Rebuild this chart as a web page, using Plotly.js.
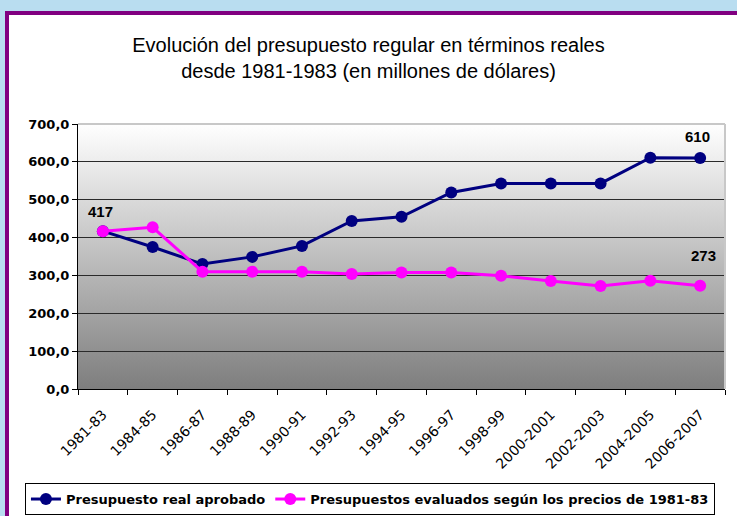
<!DOCTYPE html>
<html>
<head>
<meta charset="utf-8">
<script src="https://cdn.plot.ly/plotly-3.0.1.min.js"></script>
<style>
  html, body { margin:0; padding:0; background:#b9ddf0; width:737px; height:516px; overflow:hidden; }
  #frame { position:absolute; left:5px; top:11px; width:800px; height:600px; background:#ffffff;
           border-left:4px solid #800080; border-top:4px solid #800080; box-sizing:border-box; }
  #chart { position:absolute; left:0; top:0; width:737px; height:516px; }
</style>
</head>
<body>
<div id="frame"></div>
<div id="chart"></div>
<script>
const categories = ["1981-83","1984-85","1986-87","1988-89","1990-91","1992-93","1994-95","1996-97","1998-99","2000-2001","2002-2003","2004-2005","2006-2007"];
const realAprobado = [417, 375, 330, 349, 378, 444, 455, 519, 543, 543, 543, 611, 610];
const preciosConstantes = [417, 427, 310, 310, 310, 304, 308, 308, 299, 285, 272, 286, 273];
const seriesNames = ["Presupuesto real aprobado", "Presupuestos evaluados según los precios de 1981-83"];
const yTicks = [0, 100, 200, 300, 400, 500, 600, 700];

const gradSvg = '<svg xmlns="http://www.w3.org/2000/svg" width="100" height="100" preserveAspectRatio="none">' +
  '<defs><linearGradient id="g" x1="0" y1="0" x2="0" y2="1">' +
  '<stop offset="0" stop-color="#ffffff"/><stop offset="1" stop-color="#7e7e7e"/></linearGradient></defs>' +
  '<rect x="0" y="0" width="100" height="100" fill="url(#g)"/></svg>';
const gradSrc = 'data:image/svg+xml;base64,' + btoa(gradSvg);

const traces = [
  { x: categories, y: realAprobado, name: seriesNames[0], type: 'scatter', mode: 'lines+markers',
    line: { color: '#000080', width: 3 }, marker: { color: '#000080', size: 12 } },
  { x: categories, y: preciosConstantes, name: seriesNames[1], type: 'scatter', mode: 'lines+markers',
    line: { color: '#ff00ff', width: 3 }, marker: { color: '#ff00ff', size: 12 } }
];

const labelFont = { family: 'Liberation Sans, Arial', size: 15, color: '#000', weight: 'bold' };
const annotations = [
  { x: categories[0], y: realAprobado[0], text: String(realAprobado[0]), showarrow: false, yshift: 20, xshift: -2, font: labelFont },
  { x: categories[12], y: realAprobado[12], text: String(realAprobado[12]), showarrow: false, yshift: 22, xshift: -3, font: labelFont },
  { x: categories[12], y: preciosConstantes[12], text: String(preciosConstantes[12]), showarrow: false, yshift: 30, xshift: 3, font: labelFont }
];

const layout = {
  width: 737, height: 516,
  paper_bgcolor: 'rgba(0,0,0,0)', plot_bgcolor: 'rgba(0,0,0,0)',
  margin: { l: 78, r: 12, t: 124, b: 127, pad: 0, autoexpand: false },
  separators: ', ',
  title: { text: 'Evolución del presupuesto regular en términos reales<br>desde 1981-1983 (en millones de dólares)',
           x: 0.5, xanchor: 'center', xref: 'container', y: 0.899, yanchor: 'top', yref: 'container',
           font: { family: 'Liberation Sans, Arial', size: 20, color: '#000' } },
  showlegend: true,
  legend: { orientation: 'h', xref: 'paper', yref: 'paper', x: -0.082, xanchor: 'left', y: -0.355, yanchor: 'top',
            bgcolor: '#ffffff', bordercolor: '#000', borderwidth: 1,
            font: { family: 'DejaVu Sans', size: 13, color: '#000', weight: 'bold' } },
  xaxis: { type: 'category', range: [-0.5, 12.5], autorange: false, automargin: false,
           tickangle: -45, showgrid: false, showline: true, linecolor: '#000', linewidth: 1,
           ticks: 'outside', ticklen: 5, tickcolor: '#000', tickson: 'boundaries', ticklabelstandoff: 11,
           tickfont: { family: 'DejaVu Sans', size: 14, color: '#000' }, zeroline: false },
  yaxis: { range: [0, 700], autorange: false, automargin: false, tickvals: yTicks, tickformat: '.1f',
           showgrid: true, gridcolor: '#2a2a2a', gridwidth: 1,
           showline: true, linecolor: '#000', linewidth: 1, ticks: 'outside', ticklen: 5, tickcolor: '#000',
           tickfont: { family: 'DejaVu Sans', size: 13, color: '#000', weight: 'bold' }, zeroline: false },
  images: [{ source: gradSrc, xref: 'paper', yref: 'paper', x: 0, y: 1, sizex: 1, sizey: 1,
             xanchor: 'left', yanchor: 'top', sizing: 'stretch', layer: 'below' }],
  shapes: [
    { type: 'line', xref: 'paper', yref: 'paper', x0: 0, x1: 1, y0: 1, y1: 1, line: { color: '#c8c8c8', width: 2 }, layer: 'above' },
    { type: 'line', xref: 'paper', yref: 'paper', x0: 1, x1: 1, y0: 0, y1: 1, line: { color: '#c8c8c8', width: 2 }, layer: 'above' }
  ],
  annotations: annotations
};

Plotly.newPlot('chart', traces, layout, { displayModeBar: false, staticPlot: true });
</script>
</body>
</html>
